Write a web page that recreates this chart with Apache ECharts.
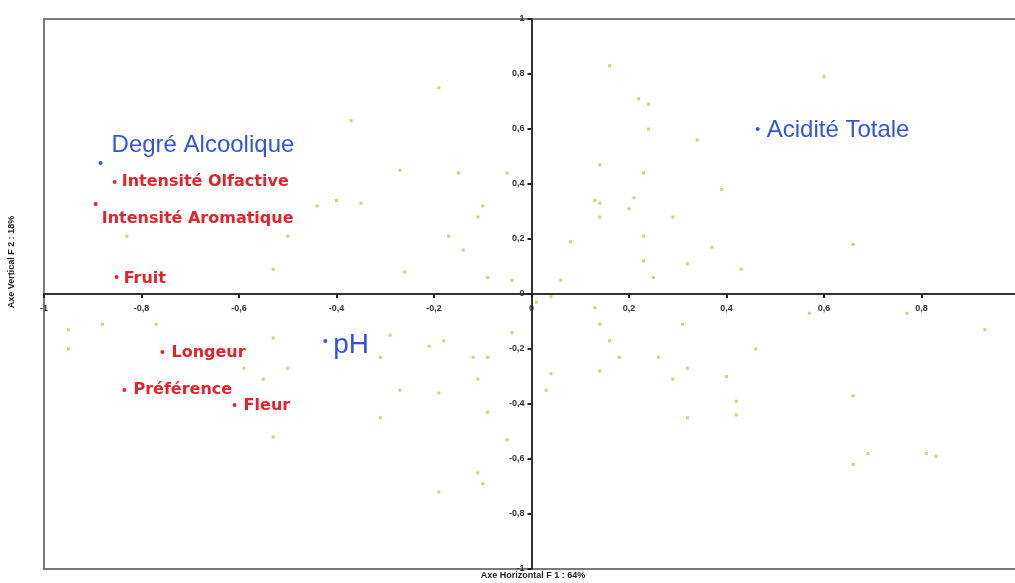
<!DOCTYPE html>
<html>
<head>
<meta charset="utf-8">
<script src="https://cdn.jsdelivr.net/npm/echarts@6/dist/echarts.min.js"></script>
<style>html,body{margin:0;padding:0;background:#fff}#c{width:1015px;height:583px}</style>
</head>
<body>
<div id="c"></div>
<script>
// Variables (correlation circle coordinates F1, F2)
var redNames = ["Intensité Olfactive", "Intensité Aromatique", "Fruit", "Longeur", "Préférence", "Fleur"];
var redX = [-0.855, -0.894, -0.851, -0.757, -0.835, -0.609];
var redY = [0.407, 0.327, 0.062, -0.211, -0.349, -0.404];

var blueNames = ["Degré Alcoolique", "pH", "Acidité Totale"];
var blueX = [-0.884, -0.423, 0.464];
var blueY = [0.476, -0.171, 0.600];

// Observations (faint points)
var obsX = [-0.19,-0.37,-0.27,-0.15,-0.05,-0.44,-0.40,-0.35,-0.10,-0.11,-0.17,-0.14,-0.26,-0.09,-0.04,0.06,-0.50,0.14,0.14,0.14,0.08,0.16,0.22,0.24,0.60,0.24,0.34,0.23,0.39,0.13,0.21,0.20,0.29,0.23,0.37,0.66,0.23,0.32,0.43,0.25,-0.83,-0.53,-0.95,-0.88,-0.77,-0.95,-0.53,-0.59,-0.50,-0.55,-0.53,-0.29,-0.18,-0.21,-0.31,-0.09,-0.04,-0.12,-0.11,-0.27,-0.19,-0.31,-0.09,-0.05,0.04,0.03,0.01,0.04,0.14,0.16,0.18,0.14,0.26,0.29,0.13,0.31,0.46,0.32,0.40,0.42,0.32,0.42,0.66,0.69,0.81,0.93,0.77,0.57,-0.11,-0.10,-0.19,0.66,0.83];
var obsY = [0.75,0.63,0.45,0.44,0.44,0.32,0.34,0.33,0.32,0.28,0.21,0.16,0.08,0.06,0.05,0.05,0.21,0.47,0.33,0.28,0.19,0.83,0.71,0.69,0.79,0.60,0.56,0.44,0.38,0.34,0.35,0.31,0.28,0.21,0.17,0.18,0.12,0.11,0.09,0.06,0.21,0.09,-0.13,-0.11,-0.11,-0.20,-0.16,-0.27,-0.27,-0.31,-0.52,-0.15,-0.17,-0.19,-0.23,-0.23,-0.14,-0.23,-0.31,-0.35,-0.36,-0.45,-0.43,-0.53,-0.29,-0.35,-0.03,-0.01,-0.11,-0.17,-0.23,-0.28,-0.23,-0.31,-0.05,-0.11,-0.20,-0.27,-0.30,-0.39,-0.45,-0.44,-0.37,-0.58,-0.58,-0.13,-0.07,-0.07,-0.65,-0.69,-0.72,-0.62,-0.59];

var tickMin = -1, tickMax = 1, tickStep = 0.2;
var xTitle = "Axe Horizontal F 1 : 64%";
var yTitle = "Axe Vertical F 2 : 18%";

// layout / style
var GRID = { left: 44, top: 19, width: 975, height: 550 };
var labelOffsets = {
  "Degré Alcoolique": [9, -18],
  "Intensité Olfactive": [5, 0],
  "Intensité Aromatique": [4, 15],
  "Fruit": [5, 2],
  "Longeur": [7, 1],
  "Préférence": [7, 0],
  "Fleur": [7, 1],
  "pH": [6, 4],
  "Acidité Totale": [7, 1]
};

var RED = '#e4222c', BLUE = '#3355dd';

function build(names, xs, ys) {
  return names.map(function (n, i) {
    var o = labelOffsets[n];
    return { name: n, value: [xs[i], ys[i]], label: { distance: o[0], offset: [0, o[1]] } };
  });
}
var blueData = build(blueNames, blueX, blueY);
blueData.forEach(function (d) {
  if (d.name === 'pH') d.label.fontSize = 28;
});

var fmt = function (v) {
  var r = Math.round(v * 10) / 10;
  return String(r).replace('.', ',');
};

var chart = echarts.init(document.getElementById('c'));
chart.setOption({
  animation: false,
  backgroundColor: '#fff',
  grid: { left: GRID.left, top: GRID.top, width: GRID.width, height: GRID.height, outerBoundsMode: 'none', containLabel: false, show: true, borderColor: '#7a7a7a', borderWidth: 2, backgroundColor: 'transparent' },
  xAxis: {
    type: 'value', min: tickMin, max: tickMax, interval: tickStep,
    position: 'bottom', offset: -GRID.height / 2,
    axisLine: { onZero: false, lineStyle: { color: '#333', width: 2 } },
    axisTick: { show: true, length: 4, lineStyle: { color: '#222', width: 2 } },
    splitLine: { show: false },
    axisLabel: { formatter: fmt, fontSize: 9, fontWeight: 'bold', color: '#333', margin: 10, fontFamily: 'Liberation Sans', showMinLabel: true, showMaxLabel: true, hideOverlap: false }
  },
  yAxis: {
    type: 'value', min: tickMin, max: tickMax, interval: tickStep,
    position: 'left', offset: -GRID.width / 2,
    axisLine: { onZero: false, lineStyle: { color: '#333', width: 2 } },
    axisTick: { show: true, length: 4, lineStyle: { color: '#222', width: 2 } },
    splitLine: { show: false },
    axisLabel: { formatter: fmt, fontSize: 9, fontWeight: 'bold', color: '#333', margin: 7, fontFamily: 'Liberation Sans', showMinLabel: true, showMaxLabel: true, hideOverlap: false }
  },
  series: [
    {
      type: 'scatter', name: 'obs', symbol: 'rect', symbolSize: 3,
      itemStyle: { color: '#b4dc66', opacity: 0.9 },
      data: obsX.map(function (x, i) { return [x, obsY[i]]; }),
      z: 1
    },
    {
      type: 'scatter', name: 'red', symbolSize: 4,
      itemStyle: { color: RED, opacity: 1 },
      label: { show: true, position: 'right', formatter: '{b}', color: RED, fontSize: 16, fontWeight: 'bold', fontFamily: 'DejaVu Sans' },
      data: build(redNames, redX, redY),
      z: 3
    },
    {
      type: 'scatter', name: 'blue', symbolSize: 4,
      itemStyle: { color: BLUE, opacity: 1 },
      label: { show: true, position: 'right', formatter: '{b}', color: BLUE, fontSize: 24, fontFamily: 'Liberation Sans' },
      data: blueData,
      z: 3
    }
  ],
  graphic: [
    { type: 'text', x: 533, y: 576, style: { text: xTitle, font: 'bold 9px "Liberation Sans"', fill: '#222', align: 'center', verticalAlign: 'middle' } },
    { type: 'text', x: 12, y: 262, rotation: Math.PI / 2, style: { text: yTitle, font: 'bold 9px "Liberation Sans"', fill: '#222', align: 'center', verticalAlign: 'middle' } }
  ]
});
</script>
</body>
</html>
